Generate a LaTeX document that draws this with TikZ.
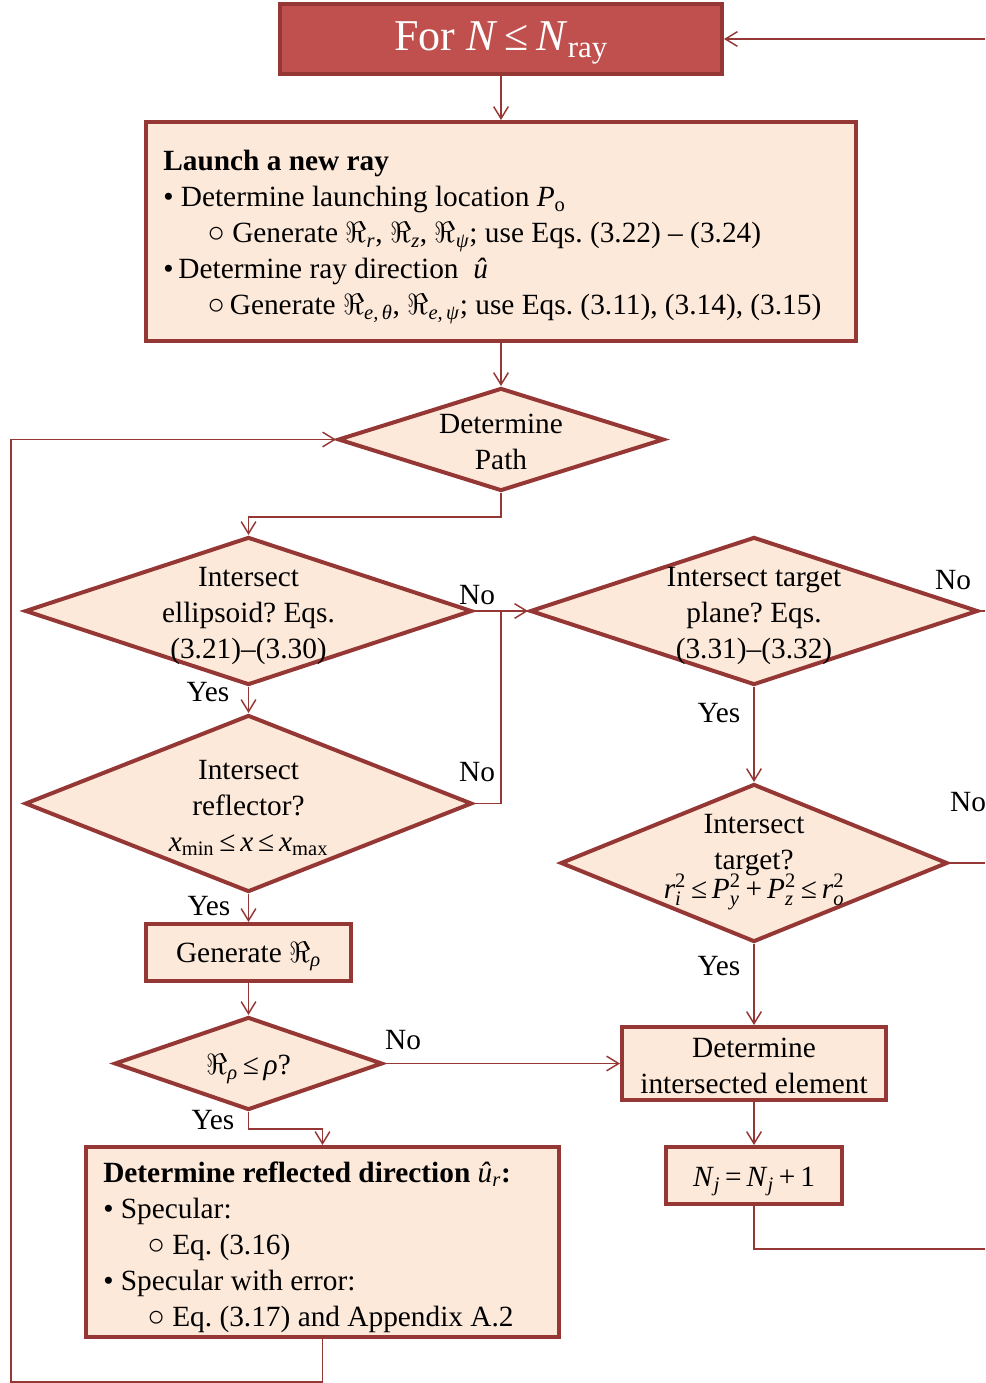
\documentclass[tikz,border=0pt]{standalone}
\usepackage{fix-cm}
\usepackage{amsmath}
\usepackage{fontspec}
\setmainfont{Liberation Serif}
\usetikzlibrary{shapes.geometric,arrows.meta}
\definecolor{bord}{HTML}{953735}
\definecolor{pfill}{HTML}{FDE9D9}
\definecolor{tfill}{HTML}{C0504D}
\newcommand{\Rsym}{$\Re$}
\newcommand{\bodyfont}{\frenchspacing\fontsize{22pt}{27pt}\selectfont}
\begin{document}
\begin{tikzpicture}[x=0.75pt,y=-0.75pt,
  boxnode/.style={draw=bord, line width=3pt, fill=pfill, inner sep=0pt},
  tbox/.style={draw=bord, line width=3pt, fill=tfill, inner sep=0pt},
  dia/.style={diamond, draw=bord, line width=3pt, fill=pfill, inner sep=0pt},
  txt/.style={align=center, inner sep=0pt, font=\bodyfont},
  ltxt/.style={align=left, anchor=west, inner sep=0pt, font=\bodyfont},
  lbl/.style={inner sep=0pt, font=\bodyfont},
  conn/.style={draw=bord, line width=1.1pt},
  arr/.style={conn, -{Straight Barb[length=9pt,width=11pt]}}]
\useasboundingbox (0,0) rectangle (985,1383);

% title
\node[tbox, minimum width=331.5pt, minimum height=52.5pt] (title) at (501,39) {};
\node[inner sep=0pt, text=white, font=\fontsize{33pt}{38pt}\selectfont] (titleT) at (501,43)
  {For \textit{N}\,≤\,\textit{N}\textsubscript{ray}};

% launch box
\node[boxnode, minimum width=532.5pt, minimum height=164.25pt] (launch) at (501,231.5) {};
\node[ltxt] (launchT) at (163,237)
  {\textbf{Launch a new ray}\\
   •\ Determine launching location \textit{P}\textsubscript{o}\\
   \hspace*{33pt}○ Generate \Rsym\textsubscript{\textit{r}}, \Rsym\textsubscript{\textit{z}}, \Rsym\textsubscript{\textit{ψ}}; use Eqs. (3.22) – (3.24)\\
   •\,Determine ray direction \ \textit{û}\\
   \hspace*{33pt}○\,Generate \Rsym\textsubscript{\textit{e,\,θ}}, \Rsym\textsubscript{\textit{e,\,ψ}}; use Eqs. (3.11), (3.14), (3.15)};

% diamonds
\node[dia, minimum width=244.5pt, minimum height=77.25pt] (path) at (501,439.5) {};
\node[txt] (pathT) at (501,442) {Determine\\Path};

\node[dia, minimum width=335.25pt, minimum height=111pt] (ell) at (248.5,611) {};
\node[txt] (ellT) at (248.5,616) {Intersect\\ellipsoid? Eqs.\\(3.21)–(3.30)};

\node[dia, minimum width=336pt, minimum height=111pt] (plane) at (754,611) {};
\node[txt] (planeT) at (754,616) {Intersect target\\plane? Eqs.\\(3.31)–(3.32)};

\node[dia, minimum width=335.25pt, minimum height=132.75pt] (refl) at (248.5,803.5) {};
\node[txt] (reflT) at (248.5,808)
  {Intersect\\reflector?\\\textit{x}\textsubscript{min}\,≤\,\textit{x}\,≤\,\textit{x}\textsubscript{max}};

\node[dia, minimum width=290.25pt, minimum height=118.5pt] (target) at (754,863) {};
\node[txt] (targetT) at (754,862)
  {Intersect\\target?\\[-5pt]$\textit{r}_{\textit{i}}^{\text{2}}$\,≤\,$\textit{P}_{\textit{y}}^{\text{2}}$\,+\,$\textit{P}_{\textit{z}}^{\text{2}}$\,≤\,$\textit{r}_{\textit{o}}^{\text{2}}$};

\node[boxnode, minimum width=153.75pt, minimum height=42.75pt] (gen) at (248.5,952.5) {};
\node[txt] (genT) at (248.5,956.5) {Generate \Rsym\textsubscript{\textit{ρ}}};

\node[dia, minimum width=201pt, minimum height=69.75pt] (rho) at (248.5,1063.5) {};
\node[txt] (rhoT) at (248.5,1069) {\Rsym\textsubscript{\textit{ρ}}\,≤\,\textit{ρ}?};

\node[boxnode, minimum width=198pt, minimum height=54.75pt] (elem) at (754,1063.5) {};
\node[txt] (elemT) at (754,1066) {Determine\\intersected element};

\node[boxnode, minimum width=132pt, minimum height=42.75pt] (nj) at (754,1175.5) {};
\node[txt] (njT) at (754,1181.5)
  {\textit{N}\textsubscript{\textit{j}}\,=\,\textit{N}\textsubscript{\textit{j}}\,+\,1};

\node[boxnode, minimum width=354.75pt, minimum height=142.5pt] (rdir) at (322.5,1242) {};
\node[ltxt] (rdirT) at (103,1247)
  {\textbf{Determine reflected direction} \textit{û}\textsubscript{\textit{r}}\textbf{:}\\
   •\ Specular:\\
   \hspace*{33pt}○ Eq. (3.16)\\
   •\ Specular with error:\\
   \hspace*{33pt}○ Eq. (3.17) and Appendix A.2};

% labels
\node[lbl] (no1) at (477,595) {No};
\node[lbl] (no2) at (953,580) {No};
\node[lbl] (yes1) at (208,692) {Yes};
\node[lbl] (no3) at (477,772) {No};
\node[lbl] (yes2) at (209,906) {Yes};
\node[lbl] (yes3) at (719,713) {Yes};
\node[lbl] (no4) at (968,802) {No};
\node[lbl] (yes4) at (719,966) {Yes};
\node[lbl] (no5) at (403,1040) {No};
\node[lbl] (yes5) at (213,1120) {Yes};

% free ends at the right edge and the left loop
\coordinate (r0) at (985,39);
\coordinate (r1) at (985,611);
\coordinate (r2) at (985,863);
\coordinate (r3) at (985,1249);
\coordinate (lc) at (11,1382);
\coordinate (jn) at (ell.east -| path.south);

% connectors
\draw[arr] (r0) -- (title.east);
\draw[arr] (title) -- (launch);
\draw[arr] (launch) -- (path);
\draw[arr] (path.south) -- ++(0,24) -| (ell.north);
\draw[arr] (ell.east) -- (plane.west);
\draw[conn] (refl.east) -| (jn);
\draw[arr] (ell) -- (refl);
\draw[arr] (refl) -- (gen);
\draw[arr] (gen) -- (rho);
\draw[arr] (rho.east) -- (elem.west);
\draw[arr] (rho.south) -- ++(0,17) -| (rdir.north);
\draw[arr] (rdir.south) |- (lc) |- (path.west);
\draw[conn] (plane.east) -- (r1);
\draw[arr] (plane) -- (target);
\draw[conn] (target.east) -- (r2);
\draw[arr] (target) -- (elem);
\draw[arr] (elem) -- (nj);
\draw[conn] (nj.south) |- (r3);
\end{tikzpicture}
\end{document}
